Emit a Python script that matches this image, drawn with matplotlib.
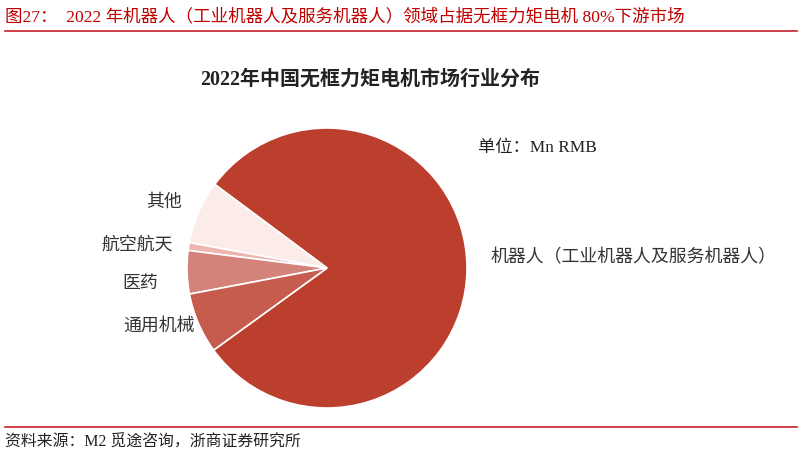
import matplotlib
matplotlib.use("Agg")
import matplotlib.pyplot as plt

plt.rcParams['font.family'] = ['Liberation Serif', 'Noto Sans CJK SC', 'DejaVu Sans']

categories = ['机器人（工业机器人及服务机器人）', '其他', '航空航天', '医药', '通用机械']
values = [80, 7.3, 0.9, 5.0, 7.0]
colors = ['#BC3F2D', '#FBEBE9', '#EDB5B0', '#D4837A', '#C55C4E']

W, H = 802, 460
fig = plt.figure(figsize=(W / 100, H / 100), dpi=100)

def fx(px):
    return px / W

def fy(py):
    return 1 - py / H

# header
fig.text(fx(5), fy(17), '图27：  2022 年机器人（工业机器人及服务机器人）领域占据无框力矩电机 80%下游市场',
         color='#C00000', fontsize=12.6, va='center', ha='left')
fig.add_artist(plt.Line2D([fx(5), fx(797)], [fy(32), fy(32)], color='#C8202A', lw=1.2))

# footer
fig.add_artist(plt.Line2D([fx(5), fx(797)], [fy(428), fy(428)], color='#C8202A', lw=1.2))
fig.text(fx(5), fy(443), '资料来源：M2 觅途咨询，浙商证券研究所', color='#222222',
         fontsize=11.4, va='center', ha='left')

# title
fig.text(fx(370), fy(80), '2022年中国无框力矩电机市场行业分布', color='#222222',
         fontsize=14.4, fontweight='bold', va='center', ha='center')
fig.text(fx(478), fy(148), '单位：Mn RMB', color='#222222', fontsize=12.4, va='center', ha='left')

cx, cy, r = 327, 269, 140
ax = fig.add_axes([fx(cx - r), fy(cy + r), 2 * r / W, 2 * r / H])
ax.pie(values, colors=colors, startangle=215.9, counterclock=True,
       wedgeprops=dict(edgecolor='white', linewidth=1.2))
ax.set_xlim(-1, 1)
ax.set_ylim(-1, 1)
ax.set_aspect('auto')
ax.axis('off')

label_pos = {
    '机器人（工业机器人及服务机器人）': (490, 258, 'left'),
    '其他': (182, 202, 'right'),
    '航空航天': (173, 245, 'right'),
    '医药': (158, 283, 'right'),
    '通用机械': (195, 326, 'right'),
}
for c in categories:
    x, y, ha = label_pos[c]
    fig.text(fx(x), fy(y), c, color='#333333', fontsize=12.9, va='center', ha=ha)

fig.savefig('out.png', dpi=100)
